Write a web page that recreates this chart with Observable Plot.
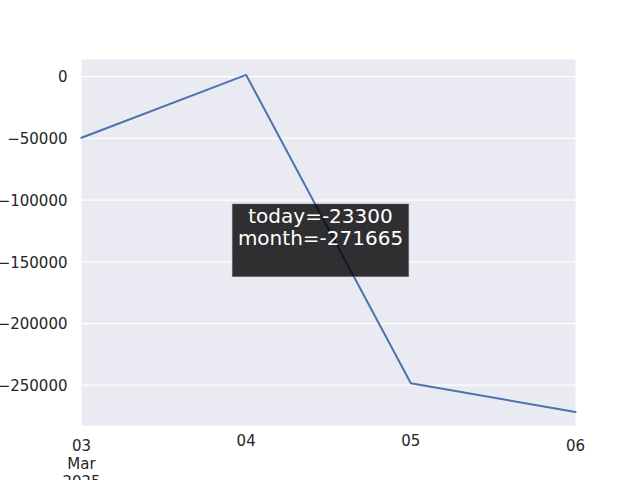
<!DOCTYPE html>
<html><head><meta charset="utf-8">
<script src="https://cdn.jsdelivr.net/npm/d3@7"></script>
<script src="https://cdn.jsdelivr.net/npm/@observablehq/plot@0.6"></script>
<style>body{margin:0;background:#fff}svg{font-family:"DejaVu Sans",sans-serif}</style>
</head><body><div id="chart"></div>
<script>
const dates = ["2025-03-03","2025-03-04","2025-03-05","2025-03-06"];
const values = [-49600, 1300, -248365, -271665];
const yTicks = [0,-50000,-100000,-150000,-200000,-250000];
const xTickDates = ["2025-03-03","2025-03-04","2025-03-05","2025-03-06"];
const xTickLabels = ["03\nMar\n2025","04","05","06"];
const xTickLower = [true,false,false,true];
const todayValue = -23300;
const monthValue = -271665;

const parse = d3.utcParse("%Y-%m-%d");
const data = dates.map((d,i)=>({date:parse(d), value:values[i]}));
const ticks = xTickDates.map((d,i)=>({date:parse(d), label:xTickLabels[i], lower:xTickLower[i]}));
const labelOf = new Map(ticks.map(t=>[+t.date,t.label]));
const lowerTicks = ticks.filter(t=>t.lower).map(t=>t.date);
const upperTicks = ticks.filter(t=>!t.lower).map(t=>t.date);

const plot = Plot.plot({
  width:640, height:480,
  marginLeft:81, marginRight:65, marginTop:59, marginBottom:55,
  style:{fontFamily:"DejaVu Sans", background:"white", overflow:"visible"},
  x:{type:"utc", domain:[parse(dates[0]), parse(dates[dates.length-1])]},
  y:{domain:[-282600, 13800]},
  marks:[
    Plot.frame({fill:"#EAEAF2", stroke:null}),
    Plot.gridY(yTicks, {stroke:"white", strokeOpacity:1, strokeWidth:1.25}),
    Plot.axisY(yTicks, {tickSize:0, tickPadding:14, dy:1, fontSize:15, fill:"#262626", tickFormat:d3.format("d"), label:null}),
    Plot.axisX(upperTicks, {tickSize:0, tickPadding:10, fontSize:15, fill:"#262626", tickFormat:d=>labelOf.get(+d), label:null}),
    Plot.axisX(lowerTicks, {tickSize:0, tickPadding:13, fontSize:15, lineHeight:1.2, fill:"#262626", tickFormat:d=>labelOf.get(+d), label:null}),
    Plot.line(data, {x:"date", y:"value", stroke:"#4C72B0", strokeWidth:2}),
    Plot.text([`today=${todayValue}\nmonth=${monthValue}`], {frameAnchor:"middle", dx:-8, dy:-15.5, fill:"white", fontSize:20, lineHeight:1.1, text:d=>d})
  ]
});
document.getElementById("chart").appendChild(plot);
const groups = plot.querySelectorAll('g[aria-label="text"]');
const tg = groups[groups.length-1];
const bb = tg.getBBox();
const ns = "http://www.w3.org/2000/svg";
const r = document.createElementNS(ns,"rect");
r.setAttribute("x", bb.x-5.5);
r.setAttribute("y", bb.y);
r.setAttribute("width", bb.width+11);
r.setAttribute("height", bb.height+26.5);
r.setAttribute("fill","black");
r.setAttribute("fill-opacity","0.8");
r.setAttribute("stroke","#555");
r.setAttribute("stroke-opacity","0.5");
tg.insertBefore(r, tg.firstChild);
</script></body></html>
